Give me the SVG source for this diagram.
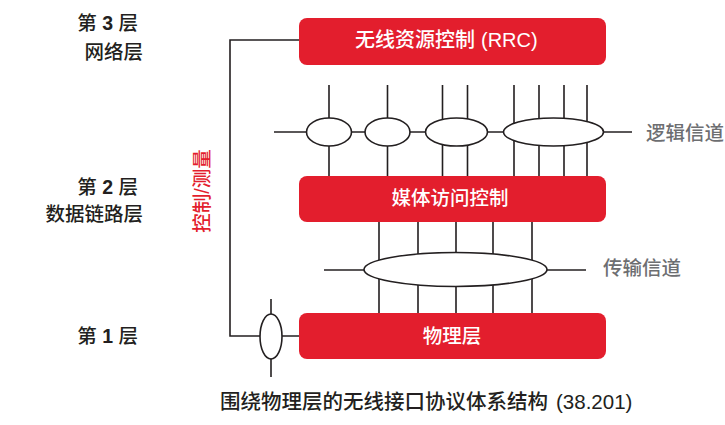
<svg xmlns="http://www.w3.org/2000/svg" width="725" height="425" viewBox="0 0 725 425">
<style>
text{font-family:"Liberation Sans","Noto Sans CJK SC",sans-serif;font-size:19.5px;font-weight:500}
.lat{font-weight:700}
.blk{fill:#231f20}
.wht{fill:#ffffff;text-anchor:middle}
.gry{fill:#6d6e71}
.red{fill:#e31e2d}
.box{fill:#e31e2d}
.ln{stroke:#231f20;stroke-width:1.6;fill:none}
.el{stroke:#231f20;stroke-width:1.6;fill:#ffffff}
</style>
<rect width="725" height="425" fill="#ffffff"/>
<g id="connectors">
<path class="ln" d="M299,40 H230 V336 H299"/>
<path class="ln" d="M271,299 V377"/>
<path class="ln" d="M274,132 H632"/>
<path class="ln" d="M329,85 V176 M387.5,85 V176 M442.5,85 V176 M467.5,85 V176 M514,85 V176 M539,85 V176 M564,85 V176 M587,85 V176"/>
<path class="ln" d="M324,270 H586"/>
<path class="ln" d="M379,222 V313 M418,222 V313 M456,222 V313 M493,222 V313 M532,222 V313"/>
<ellipse class="el" cx="329" cy="132" rx="22.5" ry="14"/>
<ellipse class="el" cx="387.5" cy="132" rx="22.5" ry="14"/>
<ellipse class="el" cx="456.5" cy="132" rx="31" ry="14"/>
<ellipse class="el" cx="553.5" cy="132" rx="50" ry="14"/>
<ellipse class="el" cx="455.5" cy="269.5" rx="91.5" ry="17"/>
<ellipse class="el" cx="271" cy="336.5" rx="11" ry="22.5"/>
</g>
<g id="rrc">
<rect class="box" x="299" y="18" width="307" height="47" rx="8"/>
<text class="wht" x="355" y="46.5" style="text-anchor:start;font-size:20px">无线资源控制 <tspan x="481">(RRC)</tspan></text>
</g>
<g id="mac">
<rect class="box" x="299" y="176" width="307" height="46" rx="8"/>
<text class="wht" x="450" y="205">媒体访问控制</text>
</g>
<g id="phy">
<rect class="box" x="299" y="313" width="307" height="46" rx="8"/>
<text class="wht" x="452" y="343">物理层</text>
</g>
<g id="labels">
<text class="blk" x="138" y="30" text-anchor="end">第<tspan class="lat"> 3 </tspan>层</text>
<text class="blk" x="143" y="59" text-anchor="end">网络层</text>
<text class="blk" x="138" y="194" text-anchor="end">第<tspan class="lat"> 2 </tspan>层</text>
<text class="blk" x="143" y="221" text-anchor="end">数据链路层</text>
<text class="blk" x="138" y="343" text-anchor="end">第<tspan class="lat"> 1 </tspan>层</text>
<text class="gry" x="646" y="140">逻辑信道</text>
<text class="gry" x="603" y="275">传输信道</text>
<text class="red" transform="translate(209,191) rotate(-90)" text-anchor="middle">控制/测量</text>
<text class="blk" x="220" y="409" style="font-size:20.5px">围绕物理层的无线接口协议体系结构 <tspan x="556">(38.201)</tspan></text>
</g>
</svg>
